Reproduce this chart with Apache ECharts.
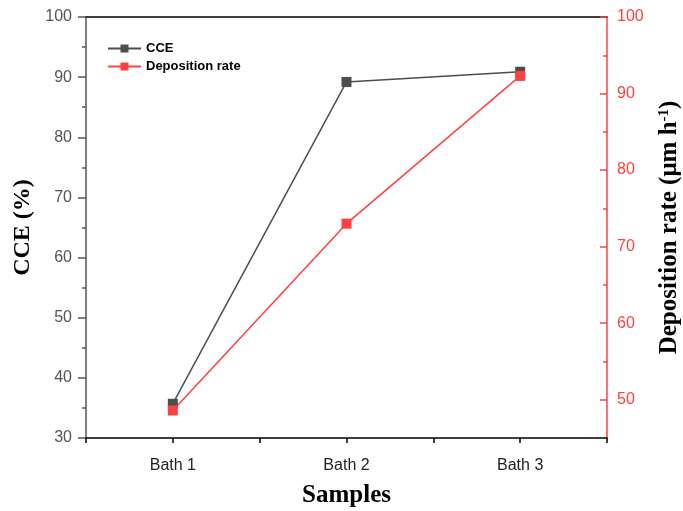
<!DOCTYPE html>
<html><head><meta charset="utf-8">
<script src="https://cdn.jsdelivr.net/npm/echarts@6/dist/echarts.min.js"></script>
<style>html,body{margin:0;padding:0;background:#fff}#c{width:683px;height:511px}</style>
</head><body><div id="c"></div>
<script>
var categories = ["Bath 1", "Bath 2", "Bath 3"];
var cceValues = [35.7, 89.2, 90.9];
var depositionValues = [48.6, 73.0, 92.3];
var rightMajorTicks = [50, 60, 70, 80, 90, 100];
var rightMinorTicks = [55, 65, 75, 85, 95];

var chart = echarts.init(document.getElementById('c'));
var gray = '#4d4d4d', red = '#ff4040';
function pts(vals){ return vals.map(function(v,i){ return [i+1, v]; }); }
chart.setOption({
  animation: false,
  grid: {left: 86, right: 76, top: 17, bottom: 73, containLabel: false, outerBoundsMode: 'none'},
  legend: {
    left: 102, top: 37, orient: 'vertical', itemWidth: 33, itemHeight: 10, itemGap: 5,
    textStyle: {fontFamily: 'Liberation Sans, Arial', fontWeight: 'bold', fontSize: 13, color: '#000'},
    data: ['CCE', 'Deposition rate']
  },
  xAxis: [{
    type: 'value', min: 0.5, max: 3.5, interval: 0.5, position: 'bottom',
    axisLine: {lineStyle: {color: '#000', width: 1.5}},
    axisTick: {show: true, length: 5, lineStyle: {color: '#000', width: 1.5}},
    splitLine: {show: false},
    axisLabel: {fontFamily: 'Liberation Sans, Arial', fontSize: 16, color: '#222', margin: 20,
      formatter: function(v){ var i = Math.round(v); return Math.abs(v-i) < 1e-6 && i>=1 && i<=categories.length ? categories[i-1] : ''; }},
    name: 'Samples', nameLocation: 'middle', nameGap: 45,
    nameTextStyle: {fontFamily: 'Liberation Serif, Times New Roman', fontWeight: 'bold', fontSize: 25, color: '#000'}
  }, {
    type: 'value', min: 0.5, max: 3.5, position: 'top',
    axisLine: {show: true, lineStyle: {color: '#000', width: 1.5}},
    axisTick: {show: false}, axisLabel: {show: false}, splitLine: {show: false}
  }],
  yAxis: [{
    type: 'value', min: 30, max: 100, interval: 10, position: 'left',
    axisLine: {show: true, lineStyle: {color: '#555', width: 1.5}},
    axisTick: {show: true, length: 8, lineStyle: {color: '#555', width: 1.5}},
    minorTick: {show: true, splitNumber: 2, length: 4, lineStyle: {color: '#555', width: 1.5}},
    splitLine: {show: false},
    axisLabel: {fontFamily: 'Liberation Sans, Arial', fontSize: 16, color: '#555', margin: 14},
    name: 'CCE (%)', nameLocation: 'middle', nameGap: 44, nameRotate: 90,
    nameTextStyle: {fontFamily: 'Liberation Serif, Times New Roman', fontWeight: 'bold', fontSize: 24, color: '#000'}
  }, {
    type: 'value', min: 45, max: 100, position: 'right',
    axisLine: {show: true, lineStyle: {color: red, width: 1.5}},
    axisTick: {show: true, inside: true, length: 7, customValues: rightMajorTicks, lineStyle: {color: red, width: 1.5}},
    splitLine: {show: false},
    axisLabel: {fontFamily: 'Liberation Sans, Arial', fontSize: 16, color: red, margin: 10, customValues: rightMajorTicks},
    name: '{n|Deposition rate (μm h}{s|-1}{n|)}', nameLocation: 'middle', nameGap: 50, nameRotate: 90,
    nameTextStyle: {fontFamily: 'Liberation Serif, Times New Roman', fontWeight: 'bold', fontSize: 25, color: '#000',
      rich: {
        n: {fontFamily: 'Liberation Serif, Times New Roman', fontWeight: 'bold', fontSize: 25, color: '#000'},
        s: {fontFamily: 'Liberation Serif, Times New Roman', fontWeight: 'bold', fontSize: 15, color: '#000', verticalAlign: 'top', padding: [0,0,10,0]}
      }}
  }, {
    type: 'value', min: 45, max: 100, position: 'right',
    axisLine: {show: false},
    axisTick: {show: true, inside: true, length: 4, customValues: rightMinorTicks, lineStyle: {color: red, width: 1.5}},
    axisLabel: {show: false}, splitLine: {show: false}
  }],
  series: [{
    name: 'CCE', type: 'line', xAxisIndex: 0, yAxisIndex: 0, data: pts(cceValues),
    symbol: 'rect', symbolSize: 10, color: gray,
    lineStyle: {color: gray, width: 1.5}, itemStyle: {color: gray}
  }, {
    name: 'Deposition rate', type: 'line', xAxisIndex: 0, yAxisIndex: 1, data: pts(depositionValues),
    symbol: 'rect', symbolSize: 10, color: red,
    lineStyle: {color: red, width: 1.5}, itemStyle: {color: red}
  }]
});
</script></body></html>
